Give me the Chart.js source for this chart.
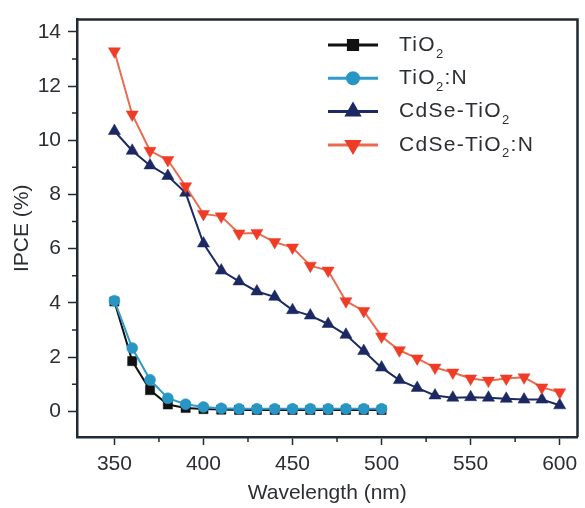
<!DOCTYPE html>
<html><head><meta charset="utf-8">
<script src="https://cdn.jsdelivr.net/npm/chart.js@4/dist/chart.umd.min.js"></script>
<style>html,body{margin:0;padding:0;background:#fff}#wrap{width:585px;height:508px;position:relative}</style>
</head><body><div id="wrap"><canvas id="c" width="585" height="508"></canvas></div>
<script>
// ---- data ----
const wavelengthsFull = [350,360,370,380,390,400,410,420,430,440,450,460,470,480,490,500,510,520,530,540,550,560,570,580,590,600];
const wavelengthsShort = [350,360,370,380,390,400,410,420,430,440,450,460,470,480,490,500];
const ipceTiO2 = [4.05,1.85,0.78,0.25,0.12,0.08,0.06,0.05,0.05,0.05,0.05,0.05,0.05,0.05,0.05,0.05];
const ipceTiO2N = [4.08,2.33,1.16,0.48,0.26,0.16,0.11,0.09,0.09,0.09,0.09,0.09,0.09,0.09,0.09,0.09];
const ipceCdSeTiO2 = [10.34,9.61,9.07,8.68,8.06,6.19,5.19,4.79,4.42,4.22,3.73,3.53,3.22,2.82,2.22,1.61,1.15,0.86,0.58,0.50,0.52,0.50,0.46,0.43,0.43,0.22];
const ipceCdSeTiO2N = [13.28,10.95,9.61,9.27,8.30,7.28,7.19,6.56,6.58,6.24,6.04,5.37,5.19,4.06,3.70,2.76,2.25,1.95,1.61,1.43,1.21,1.13,1.21,1.25,0.88,0.70];
const xMajorTicks = [350,400,450,500,550,600];
const xMinorTicks = [375,425,475,525,575];
const yMajorTicks = [0,2,4,6,8,10,12,14];
const yMinorTicks = [1,3,5,7,9,11,13];
// legend labels: [main text, subscript, trailing text]
const legendLabels = [["TiO","2",""],["TiO","2",":N"],["CdSe-TiO","2",""],["CdSe-TiO","2",":N"]];

const FONT = "'Liberation Sans', Arial, sans-serif";
const AXIS = '#1f2a33';
const TEXT = '#2b2f33';
Chart.defaults.font.family = FONT;

function pts(xs, ys){ return xs.map((x,i)=>({x:x, y:ys[i]})); }

const datasets = [
  {label:'TiO2', data:pts(wavelengthsShort, ipceTiO2), borderColor:'#111111', backgroundColor:'#111111',
   pointStyle:'rect', pointRadius:6.5, borderWidth:2, order:4},
  {label:'TiO2:N', data:pts(wavelengthsShort, ipceTiO2N), borderColor:'#2e9bc9', backgroundColor:'#2896c4',
   pointStyle:'circle', pointRadius:5.5, borderWidth:2, order:3},
  {label:'CdSe-TiO2', data:pts(wavelengthsFull, ipceCdSeTiO2), borderColor:'#1c2a66', backgroundColor:'#1b2862',
   pointStyle:'triangle', pointRadius:7, borderWidth:2, order:2},
  {label:'CdSe-TiO2:N', data:pts(wavelengthsFull, ipceCdSeTiO2N), borderColor:'#ea6b52', backgroundColor:'#ee3c26',
   pointStyle:'triangle', pointRotation:180, pointRadius:7, borderWidth:2, order:1}
];
datasets.forEach(d=>{ d.pointBorderWidth=0.5; d.pointBorderColor=d.backgroundColor; d.tension=0; d.fill=false; });

const minorTicksPlugin = {
  id:'minorTicks',
  afterDraw(chart){
    const ctx = chart.ctx, a = chart.chartArea, xs = chart.scales.x, ys = chart.scales.y;
    ctx.save();
    ctx.strokeStyle = AXIS; ctx.lineWidth = 1.5;
    ctx.beginPath();
    xMinorTicks.forEach(v=>{ const px = xs.getPixelForValue(v); ctx.moveTo(px, a.bottom); ctx.lineTo(px, a.bottom+5); });
    yMinorTicks.forEach(v=>{ const py = ys.getPixelForValue(v); ctx.moveTo(a.left, py); ctx.lineTo(a.left-5, py); });
    ctx.stroke();
    // frame top & right
    ctx.lineWidth = 2.5;
    ctx.beginPath();
    ctx.moveTo(a.left, a.top); ctx.lineTo(a.right, a.top); ctx.lineTo(a.right, a.bottom);
    ctx.stroke();
    ctx.restore();
  }
};

const legendPlugin = {
  id:'innerLegend',
  afterDraw(chart){
    const ctx = chart.ctx;
    ctx.save();
    chart.data.datasets.forEach((ds,i)=>{
      const y = 45 + i*33.3;
      ctx.strokeStyle = ds.borderColor; ctx.lineWidth = 3;
      ctx.beginPath(); ctx.moveTo(328,y); ctx.lineTo(378,y); ctx.stroke();
      ctx.fillStyle = ds.backgroundColor; ctx.strokeStyle = ds.backgroundColor;
      Chart.helpers.drawPoint(ctx, {pointStyle:ds.pointStyle, radius:ds.pointRadius, rotation:ds.pointRotation||0, borderWidth:0.5}, 353, y);
      const lab = legendLabels[i];
      ctx.fillStyle = TEXT; ctx.textBaseline = 'middle'; ctx.textAlign = 'left';
      try { ctx.letterSpacing = '1.3px'; } catch(e){}
      ctx.font = '21px ' + FONT;
      let x = 399;
      ctx.fillText(lab[0], x, y); x += ctx.measureText(lab[0]).width;
      ctx.font = '13px ' + FONT;
      ctx.fillText(lab[1], x, y+9); x += ctx.measureText(lab[1]).width;
      ctx.font = '21px ' + FONT;
      ctx.fillText(lab[2], x, y);
    });
    ctx.restore();
  }
};

new Chart(document.getElementById('c'), {
  type:'line',
  data:{datasets:datasets},
  options:{
    responsive:false, animation:false, devicePixelRatio:1,
    layout:{padding:{top:13,right:2,left:0,bottom:0}},
    plugins:{legend:{display:false}, tooltip:{enabled:false}},
    scales:{
      x:{type:'linear', min:329, max:610,
        afterBuildTicks:s=>{ s.ticks = xMajorTicks.map(v=>({value:v})); },
        afterFit:s=>{ s.height = 71; },
        grid:{drawOnChartArea:false, drawTicks:true, tickLength:8, tickWidth:1.5, tickColor:AXIS},
        border:{display:true, color:AXIS, width:2.5},
        ticks:{font:{size:21}, color:TEXT, padding:7, maxRotation:0, autoSkip:false},
        title:{display:true, text:'Wavelength (nm)', font:{size:21}, color:TEXT, padding:{top:0,bottom:2}}
      },
      y:{type:'linear', min:-0.95, max:14.45,
        afterBuildTicks:s=>{ s.ticks = yMajorTicks.map(v=>({value:v})); },
        afterFit:s=>{ s.width = 77; },
        grid:{drawOnChartArea:false, drawTicks:true, tickLength:9, tickWidth:1.5, tickColor:AXIS},
        border:{display:true, color:AXIS, width:2.5},
        ticks:{font:{size:21}, color:TEXT, padding:7, autoSkip:false},
        title:{display:true, text:'IPCE (%)', font:{size:21}, color:TEXT, padding:{top:10,bottom:0}}
      }
    }
  },
  plugins:[minorTicksPlugin, legendPlugin]
});
</script></body></html>
